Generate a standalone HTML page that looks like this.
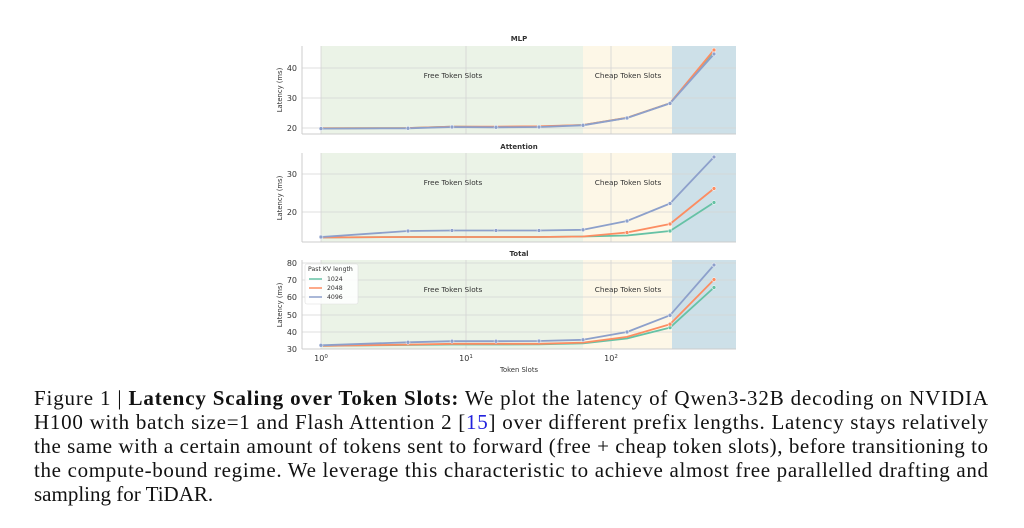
<!DOCTYPE html>
<html><head><meta charset="utf-8"><style>
body{margin:0;background:#fff;width:1024px;height:528px;overflow:hidden}
svg{display:block}
.t{font-family:"DejaVu Sans","Liberation Sans",sans-serif;fill:#333}
.c{font-family:"Liberation Serif",serif;font-size:21px;fill:#111}
</style></head><body>
<svg width="1024" height="528" viewBox="0 0 1024 528">
<g>
<rect x="321" y="46" width="262" height="88" fill="#ebf3e7"/><rect x="583" y="46" width="89" height="88" fill="#fdf7e7"/><rect x="672" y="46" width="64" height="88" fill="#cde0e8"/>
<rect x="321" y="153" width="262" height="89" fill="#ebf3e7"/><rect x="583" y="153" width="89" height="89" fill="#fdf7e7"/><rect x="672" y="153" width="64" height="89" fill="#cde0e8"/>
<rect x="321" y="260" width="262" height="89" fill="#ebf3e7"/><rect x="583" y="260" width="89" height="89" fill="#fdf7e7"/><rect x="672" y="260" width="64" height="89" fill="#cde0e8"/>
</g>
<g stroke="#d4d4d4" stroke-width="0.8">
<line x1="321" y1="46" x2="321" y2="134"/><line x1="466" y1="46" x2="466" y2="134"/><line x1="611" y1="46" x2="611" y2="134"/>
<line x1="302" y1="68" x2="736" y2="68"/><line x1="302" y1="98" x2="736" y2="98"/><line x1="302" y1="128" x2="736" y2="128"/>
<line x1="321" y1="153" x2="321" y2="242"/><line x1="466" y1="153" x2="466" y2="242"/><line x1="611" y1="153" x2="611" y2="242"/>
<line x1="302" y1="174" x2="736" y2="174"/><line x1="302" y1="212" x2="736" y2="212"/>
<line x1="321" y1="260" x2="321" y2="349"/><line x1="466" y1="260" x2="466" y2="349"/><line x1="611" y1="260" x2="611" y2="349"/>
<line x1="302" y1="263" x2="736" y2="263"/><line x1="302" y1="280" x2="736" y2="280"/><line x1="302" y1="297" x2="736" y2="297"/><line x1="302" y1="315" x2="736" y2="315"/><line x1="302" y1="332" x2="736" y2="332"/>
</g>
<g stroke="#ccc" stroke-width="1"><line x1="302" y1="46" x2="302" y2="134"/><line x1="302" y1="134" x2="736" y2="134"/>
<line x1="302" y1="153" x2="302" y2="242"/><line x1="302" y1="242" x2="736" y2="242"/>
<line x1="302" y1="260" x2="302" y2="349"/><line x1="302" y1="349" x2="736" y2="349"/></g>
<g class="t" font-size="7" font-weight="bold" text-anchor="middle"><text x="519" y="41">MLP</text><text x="519" y="149">Attention</text><text x="519" y="256">Total</text></g>
<g class="t" font-size="7.3" text-anchor="middle" fill="#444">
<text x="453" y="78">Free Token Slots</text><text x="628" y="78">Cheap Token Slots</text>
<text x="453" y="185">Free Token Slots</text><text x="628" y="185">Cheap Token Slots</text>
<text x="453" y="292">Free Token Slots</text><text x="628" y="292">Cheap Token Slots</text>
</g>
<g class="t" font-size="8" text-anchor="end">
<text x="297" y="71">40</text><text x="297" y="101">30</text><text x="297" y="131">20</text>
<text x="297" y="177">30</text><text x="297" y="215">20</text>
<text x="297" y="266">80</text><text x="297" y="283">70</text><text x="297" y="300">60</text><text x="297" y="318">50</text><text x="297" y="335">40</text><text x="297" y="352">30</text>
</g>
<g class="t" font-size="6.8" text-anchor="middle">
<text transform="translate(282,90) rotate(-90)">Latency (ms)</text>
<text transform="translate(282,198) rotate(-90)">Latency (ms)</text>
<text transform="translate(282,305) rotate(-90)">Latency (ms)</text>
<text x="519" y="372">Token Slots</text>
</g>
<g class="t" font-size="8" text-anchor="middle"><text x="321" y="361">10<tspan font-size="5.5" dy="-3">0</tspan></text><text x="466" y="361">10<tspan font-size="5.5" dy="-3">1</tspan></text><text x="611" y="361">10<tspan font-size="5.5" dy="-3">2</tspan></text></g>
<g fill="none" stroke-width="1.8" stroke-linejoin="round">
<polyline stroke="#66c2a5" points="321,128.3 408,128 452,126.6 496,127 539,126.6 583,125 627,117.8 670,103.2 714,51"/>
<polyline stroke="#fc8d62" points="321,128.3 408,128 452,126.6 496,126.6 539,126.3 583,125 627,117.8 670,103.2 714,50"/>
<polyline stroke="#8da0cb" points="321,128.6 408,128.3 452,127 496,127.3 539,127 583,125.3 627,118 670,103.4 714,54"/>
<polyline stroke="#66c2a5" points="321,237.5 408,237 452,237 496,237 539,237 583,236.5 627,235.5 670,231 714,202.5"/>
<polyline stroke="#fc8d62" points="321,237.5 408,237 452,237 496,237 539,237 583,236.5 627,232.5 670,224 714,188.5"/>
<polyline stroke="#8da0cb" points="321,237 408,231 452,230.5 496,230.5 539,230.5 583,229.8 627,221 670,203.5 714,157"/>
<polyline stroke="#66c2a5" points="321,345.8 408,345 452,344.5 496,344.5 539,344.3 583,343.3 627,338.5 670,327.6 714,287.5"/>
<polyline stroke="#fc8d62" points="321,345.8 408,344.6 452,343.8 496,343.8 539,343.8 583,342.6 627,336.9 670,324.2 714,279.6"/>
<polyline stroke="#8da0cb" points="321,345.3 408,342.3 452,341.2 496,341.2 539,341 583,339.8 627,332 670,315.3 714,265"/>
</g>
<g stroke="#fff" stroke-width="0.5">
<g fill="#66c2a5"><circle cx="670" cy="327.6" r="2"/><circle cx="714" cy="287.5" r="2"/><circle cx="714" cy="202.5" r="2"/><circle cx="670" cy="231" r="2"/></g>
<g fill="#fc8d62"><circle cx="714" cy="50" r="2"/><circle cx="670" cy="324.2" r="2"/><circle cx="714" cy="279.6" r="2"/><circle cx="714" cy="188.5" r="2"/><circle cx="670" cy="224" r="2"/><circle cx="627" cy="232.5" r="2"/></g>
<g fill="#8da0cb"><circle cx="321" cy="128.6" r="2"/><circle cx="408" cy="128.3" r="2"/><circle cx="452" cy="127" r="2"/><circle cx="496" cy="127.3" r="2"/><circle cx="539" cy="127" r="2"/><circle cx="583" cy="125.3" r="2"/><circle cx="627" cy="118" r="2"/><circle cx="670" cy="103.4" r="2"/><circle cx="714" cy="54" r="2"/>
<circle cx="321" cy="237" r="2"/><circle cx="408" cy="231" r="2"/><circle cx="452" cy="230.5" r="2"/><circle cx="496" cy="230.5" r="2"/><circle cx="539" cy="230.5" r="2"/><circle cx="583" cy="229.8" r="2"/><circle cx="627" cy="221" r="2"/><circle cx="670" cy="203.5" r="2"/><circle cx="714" cy="157" r="2"/>
<circle cx="321" cy="345.3" r="2"/><circle cx="408" cy="342.3" r="2"/><circle cx="452" cy="341.2" r="2"/><circle cx="496" cy="341.2" r="2"/><circle cx="539" cy="341" r="2"/><circle cx="583" cy="339.8" r="2"/><circle cx="627" cy="332" r="2"/><circle cx="670" cy="315.3" r="2"/><circle cx="714" cy="265" r="2"/></g>
</g>
<rect x="305" y="264" width="53" height="40" rx="2" fill="#fff" fill-opacity="0.85" stroke="#ddd" stroke-width="0.6"/>
<g class="t" font-size="6.2"><text x="308" y="271">Past KV length</text><text x="327" y="281">1024</text><text x="327" y="290">2048</text><text x="327" y="299">4096</text></g>
<g stroke-width="1.5"><line x1="309" y1="279" x2="322" y2="279" stroke="#66c2a5"/><line x1="309" y1="288" x2="322" y2="288" stroke="#fc8d62"/><line x1="309" y1="297" x2="322" y2="297" stroke="#8da0cb"/></g>
<text class="c" x="34" y="405" textLength="954" lengthAdjust="spacing">Figure 1 | <tspan font-weight="bold">Latency Scaling over Token Slots:</tspan> We plot the latency of Qwen3-32B decoding on NVIDIA</text>
<text class="c" x="34" y="429" textLength="954" lengthAdjust="spacing">H100 with batch size=1 and Flash Attention 2 [<tspan fill="#2222dd">15</tspan>] over different prefix lengths. Latency stays relatively</text>
<text class="c" x="34" y="453" textLength="954" lengthAdjust="spacing">the same with a certain amount of tokens sent to forward (free + cheap token slots), before transitioning to</text>
<text class="c" x="34" y="477" textLength="954" lengthAdjust="spacing">the compute-bound regime. We leverage this characteristic to achieve almost free parallelled drafting and</text>
<text class="c" x="34" y="501">sampling for TiDAR.</text>
</svg>
</body></html>
